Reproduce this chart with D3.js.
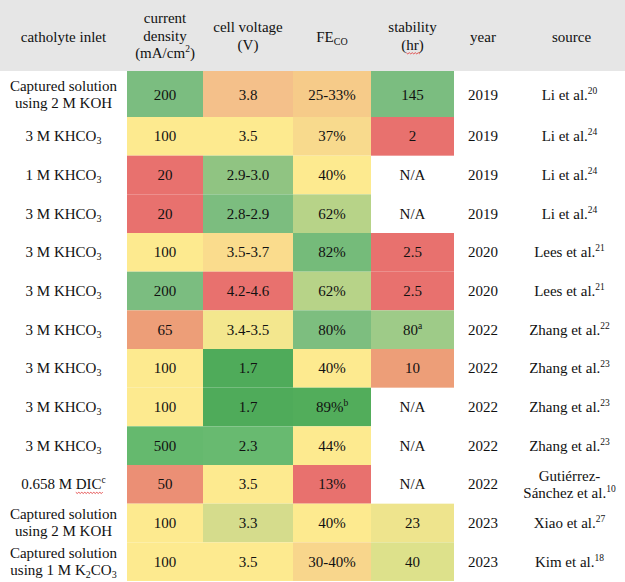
<!DOCTYPE html>
<html><head><meta charset="utf-8">
<script src="https://cdn.jsdelivr.net/npm/d3@7"></script>
<style>body{margin:0;background:#fff}svg{display:block}
svg text{font-family:"Liberation Serif","Times New Roman",Times,serif;}</style>
</head><body>
<svg id="c" width="625" height="582"></svg>
<script>
// ---- data ----
const headers = ["catholyte inlet", "current\ndensity\n(mA/cm^{2})", "cell voltage\n(V)", "FE_{CO}", "stability\n(~{hr})", "year", "source"];
const inlets = [
  "Captured solution\nusing 2 M KOH", "3 M KHCO_{3}", "1 M KHCO_{3}", "3 M KHCO_{3}", "3 M KHCO_{3}",
  "3 M KHCO_{3}", "3 M KHCO_{3}", "3 M KHCO_{3}", "3 M KHCO_{3}", "3 M KHCO_{3}",
  "0.658 M ~{DIC}^{c}", "Captured solution\nusing 2 M KOH", "Captured solution\nusing 1 M K_{2}CO_{3}"];
const currentDensity = [200, 100, 20, 20, 100, 200, 65, 100, 100, 500, 50, 100, 100];
const cellVoltageLabels = ["3.8", "3.5", "2.9-3.0", "2.8-2.9", "3.5-3.7", "4.2-4.6", "3.4-3.5", "1.7", "1.7", "2.3", "3.5", "3.3", "3.5"];
const cellVoltage = [3.8, 3.5, 2.95, 2.85, 3.6, 4.4, 3.45, 1.7, 1.7, 2.3, 3.5, 3.3, 3.5];
const feLabels = ["25-33%", "37%", "40%", "62%", "82%", "62%", "80%", "40%", "89%^{b}", "44%", "13%", "40%", "30-40%"];
const fe = [29, 37, 40, 62, 82, 62, 80, 40, 89, 44, 13, 40, 35];
const stabilityLabels = ["145", "2", "N/A", "N/A", "2.5", "2.5", "80^{a}", "10", "N/A", "N/A", "N/A", "23", "40"];
const stability = [145, 2, null, null, 2.5, 2.5, 80, 10, null, null, null, 23, 40];
const years = [2019, 2019, 2019, 2019, 2020, 2020, 2022, 2022, 2022, 2022, 2022, 2023, 2023];
const sources = ["Li et al.^{20}", "Li et al.^{24}", "Li et al.^{24}", "Li et al.^{24}", "Lees et al.^{21}", "Lees et al.^{21}",
  "Zhang et al.^{22}", "Zhang et al.^{23}", "Zhang et al.^{23}", "Zhang et al.^{23}", "Gutiérrez-\nSánchez et al.^{10}",
  "Xiao et al.^{27}", "Kim et al.^{18}"];

// ---- colour scales ----
const RED = "#e8716e", YEL = "#fdea8f";
const cdColor = d3.scaleLinear().domain([20, 65, 100, 200, 500])
  .range([RED, "#ed9e78", YEL, "#7bbd80", "#65b96e"]).clamp(true);
const cvColor = d3.scaleLinear().domain([4.4, 3.8, 3.5, 3.3, 2.85, 2.3, 1.7])
  .range([RED, "#f4c08a", YEL, "#d5dc8c", "#7cbd7f", "#68ba70", "#4fab5a"]).clamp(true);
const feColor = d3.scaleLinear().domain([13, 29, 37, 40, 44, 62, 81, 89])
  .range([RED, "#f6cb89", "#f8da8d", YEL, YEL, "#b7d388", "#7abd7e", "#52ad5b"]).clamp(true);
const stColor = d3.scaleLinear().domain([2.5, 10, 23, 40, 80, 145])
  .range([RED, "#ed9e78", "#eee48d", "#dde18b", "#9ecb88", "#7bbd80"]).clamp(true);

// ---- layout ----
const W = 625, H = 582, headerH = 71, firstRowH = 46;
const colWidths = [127, 76, 90, 78, 83, 52, 119];
const colX = d3.cumsum([0, ...colWidths]);
const rows = d3.range(inlets.length);
const yRest = d3.scaleBand().domain(rows.slice(1)).range([headerH + firstRowH, H - 1]);
const rowY = i => i === 0 ? headerH : yRest(i);
const rowH = i => i === 0 ? firstRowH : yRest.bandwidth();
const FS = 15, LH = 17;

const svg = d3.select("#c");
svg.append("rect").attr("x", 0).attr("y", 0).attr("width", W).attr("height", headerH).attr("fill", "#e6e6e6");

const columns = [
  {labels: inlets},
  {labels: currentDensity.map(String), values: currentDensity, color: cdColor},
  {labels: cellVoltageLabels, values: cellVoltage, color: cvColor},
  {labels: feLabels, values: fe, color: feColor},
  {labels: stabilityLabels, values: stability, color: stColor},
  {labels: years.map(String)},
  {labels: sources}
];

// cells
columns.forEach((col, ci) => {
  if (!col.values) return;
  svg.append("g").selectAll("rect").data(rows.filter(i => col.values[i] != null)).join("rect")
    .attr("x", colX[ci]).attr("width", colWidths[ci])
    .attr("y", i => rowY(i)).attr("height", i => rowH(i))
    .attr("fill", i => col.color(col.values[i]));
});

// rich text writer (one <text> per line, relative dy for sub/superscripts)
function writeText(cx, cy, str, lh) {
  const lines = str.split("\n");
  const squigs = [];
  lines.forEach((line, li) => {
    const baseY = cy + (li - (lines.length - 1) / 2) * lh + FS * 0.33;
    const t = svg.append("text").attr("text-anchor", "middle").attr("x", cx).attr("y", baseY)
      .attr("font-size", FS).attr("fill", "#111");
    const parts = line.split(/(_\{[^}]*\}|\^\{[^}]*\}|~\{[^}]*\})/).filter(p => p !== "");
    let cur = 0;
    parts.forEach(p => {
      let txt = p, off = 0, size = FS, squig = false;
      if (p.startsWith("_{")) { txt = p.slice(2, -1); off = 3; size = 10; }
      else if (p.startsWith("^{")) { txt = p.slice(2, -1); off = -6; size = 9.5; }
      else if (p.startsWith("~{")) { txt = p.slice(2, -1); squig = true; }
      const ts = t.append("tspan").text(txt).attr("font-size", size);
      if (off !== cur) { ts.attr("dy", off - cur); cur = off; }
      if (squig) squigs.push({node: ts.node(), y: baseY + 3});
    });
  });
  squigs.forEach(s => {
    const x0 = s.node.getStartPositionOfChar(0).x;
    const w = s.node.getComputedTextLength();
    let d = `M${x0},${s.y}`;
    const step = 1.5;
    for (let k = 1, x = x0; x < x0 + w; k++) { x += step; d += `L${x},${s.y + (k % 2 ? 1.2 : 0)}`; }
    svg.append("path").attr("d", d).attr("fill", "none").attr("stroke", "#e03030").attr("stroke-width", 0.8);
  });
}

// header text
const headerCY = [37, 36, 36, 37, 36, 37, 37];
headers.forEach((h, ci) => writeText(colX[ci] + colWidths[ci] / 2 + (ci === 5 ? 3 : ci === 6 ? 6 : 0), headerCY[ci], h, 17.5));

// body text
columns.forEach((col, ci) => {
  rows.forEach(i => {
    const cx = colX[ci] + colWidths[ci] / 2 + (ci === 5 ? 3 : ci === 6 ? 4 : 0);
    writeText(cx, rowY(i) + rowH(i) / 2 + (i === 0 ? 1 : 0), col.labels[i], LH);
  });
});
</script>
</body></html>
